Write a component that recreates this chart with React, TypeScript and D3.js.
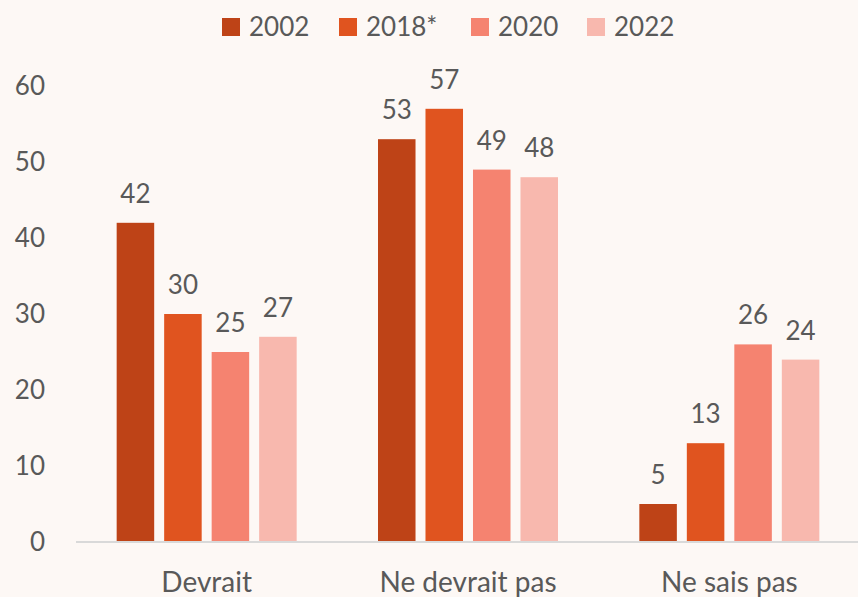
import React from "react";
import * as d3 from "d3";

const categories = ["Devrait", "Ne devrait pas", "Ne sais pas"];
const seriesNames = ["2002", "2018*", "2020", "2022"];
const values2002 = [42, 53, 5];
const values2018 = [30, 57, 13];
const values2020 = [25, 49, 26];
const values2022 = [27, 48, 24];
const yTicks = [0, 10, 20, 30, 40, 50, 60];
const colors = ["#BE4317", "#E0541F", "#F58370", "#F8B8AE"];

const W = 858;
const H = 597;
const FONT = "Lato, 'Open Sans', sans-serif";
const TEXT = "#595959";

export default function App() {
  const seriesValues = [values2002, values2018, values2020, values2022];
  const x0 = d3.scaleBand<string>().domain(categories).range([76, 860]).padding(0);
  const x1 = d3.scaleBand<string>().domain(seriesNames).range([-90, 90]).paddingInner(0.21).paddingOuter(0);
  const y = d3.scaleLinear().domain([0, 60]).range([542, 86]);

  const legendX = [222, 339, 471, 587];

  return (
    <svg
      width={W}
      height={H}
      style={{ display: "block", position: "fixed", left: 0, top: 0, background: "#FDF8F5" }}
      fontFamily={FONT}
    >
      <rect x={0} y={0} width={W} height={H} fill="#FDF8F5" />
      {/* legend */}
      {seriesNames.map((s, i) => (
        <g key={s}>
          <rect x={legendX[i]} y={18} width={18} height={18} fill={colors[i]} />
          <text x={legendX[i] + 27} y={36} fontSize={26} fill={TEXT}>
            {s}
          </text>
        </g>
      ))}
      {/* y ticks */}
      {yTicks.map((t) => (
        <text key={t} x={45} y={y(t) + 9} textAnchor="end" fontSize={26} fill={TEXT}>
          {t}
        </text>
      ))}
      {/* bars */}
      {categories.map((c, ci) => {
        const cx = (x0(c) as number) + x0.bandwidth() / 2;
        return (
          <g key={c}>
            {seriesNames.map((s, si) => {
              const v = seriesValues[si][ci];
              const bx = cx + (x1(s) as number);
              return (
                <g key={s}>
                  <rect x={bx} y={y(v)} width={x1.bandwidth()} height={y(0) - y(v)} fill={colors[si]} />
                  <text x={bx + x1.bandwidth() / 2} y={y(v) - 20} textAnchor="middle" fontSize={26} fill={TEXT}>
                    {v}
                  </text>
                </g>
              );
            })}
            <text x={cx} y={592} textAnchor="middle" fontSize={28} fill={TEXT}>
              {c}
            </text>
          </g>
        );
      })}
      <line x1={76} x2={860} y1={y(0)} y2={y(0)} stroke="#D9D9D9" strokeWidth={2} />
    </svg>
  );
}
